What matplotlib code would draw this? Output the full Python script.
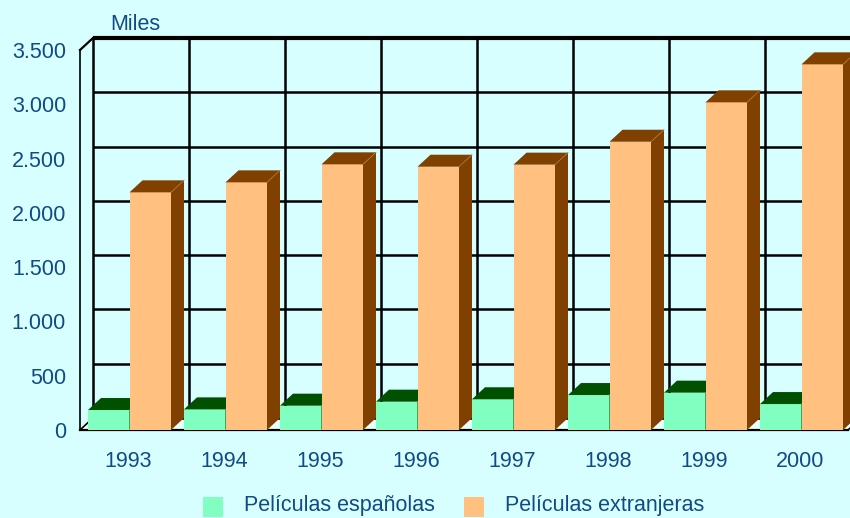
import matplotlib
matplotlib.use('Agg')
import matplotlib.pyplot as plt
from matplotlib.patches import Polygon, Rectangle

# Datos (miles)
years = ['1993', '1994', '1995', '1996', '1997', '1998', '1999', '2000']
espanolas = [184, 190, 224, 261, 283, 322, 344, 239]
extranjeras = [2189, 2281, 2447, 2425, 2444, 2655, 3018, 3368]
series_names = ['Películas españolas', 'Películas extranjeras']
y_ticks = [0, 500, 1000, 1500, 2000, 2500, 3000, 3500]

BG = '#D7FFFF'
TXT = '#124A86'
GREEN_F, GREEN_D = '#80FFC0', '#005000'
ORANGE_F, ORANGE_D = '#FFC080', '#804000'
FS = 15.5

plt.rcParams['font.family'] = ['Liberation Sans', 'DejaVu Sans']

W, H = 850, 518
fig = plt.figure(figsize=(W / 100, H / 100), dpi=100, facecolor=BG)
# front plane of the 3d box, in pixels
x0, x1, yb, yt = 80, 848, 430, 50
ax = fig.add_axes([x0 / W, 1 - yb / H, (x1 - x0) / W, (yb - yt) / H])
ax.set_facecolor('none')
ax.set_xlim(0, len(years))
ax.set_ylim(0, 3500)
for s in ax.spines.values():
    s.set_visible(False)

# depth offset (13 px right, 12 px up) in data units
DX = 13 / 96
DY = 12 * 3500 / 380
n = len(years)
ymax = y_ticks[-1]

# floor
ax.add_patch(Polygon([(0, 0), (n, 0), (n + DX, DY), (DX, DY)], closed=True,
                     facecolor='#EAFFFF', edgecolor='none', clip_on=False, zorder=1))

# back wall grid
for v in y_ticks:
    ax.plot([DX, n + DX], [v + DY, v + DY], color='black',
            lw=3 if v == ymax else 1.8, clip_on=False, zorder=2, solid_capstyle='butt')
for i in range(n + 1):
    ax.plot([i + DX, i + DX], [DY, ymax + DY], color='black', lw=1.8,
            clip_on=False, zorder=2)

# left wall edges and floor edges
ax.plot([0, 0], [0, ymax], color='black', lw=1.2, clip_on=False, zorder=2)
ax.plot([0, DX], [ymax, ymax + DY], color='black', lw=1.6, clip_on=False, zorder=2)
ax.plot([0, DX], [0, DY], color='black', lw=1.2, clip_on=False, zorder=2)
ax.plot([0, n], [0, 0], color='black', lw=1.6, clip_on=False, zorder=2)
ax.plot([n, n + DX], [0, DY], color='black', lw=1.2, clip_on=False, zorder=2)


def bar3d(xa, xb, h, front, dark, z):
    ax.add_patch(Rectangle((xa, 0), xb - xa, h, facecolor=front, edgecolor='none',
                           clip_on=False, zorder=z))
    ax.add_patch(Polygon([(xa, h), (xb, h), (xb + DX, h + DY), (xa + DX, h + DY)],
                         closed=True, facecolor=dark, edgecolor='none',
                         clip_on=False, zorder=z))
    ax.add_patch(Polygon([(xb, 0), (xb + DX, DY), (xb + DX, h + DY), (xb, h)],
                         closed=True, facecolor=dark, edgecolor='none',
                         clip_on=False, zorder=z))
    ax.plot([xb, xb + DX], [h, h + DY], color='#B07040', lw=0.6,
            clip_on=False, zorder=z + 0.1)


for i in range(n):
    a = i + 8 / 96
    m = i + 49.5 / 96
    b = i + 91 / 96
    bar3d(a, m, espanolas[i], GREEN_F, GREEN_D, 3 + i * 0.5)
    bar3d(m, b, extranjeras[i], ORANGE_F, ORANGE_D, 3.2 + i * 0.5)

# ticks and labels
ax.set_yticks(y_ticks)
ax.set_yticklabels([f'{v:,}'.replace(',', '.') for v in y_ticks])
ax.set_xticks([i + 0.5 for i in range(n)])
ax.set_xticklabels(years)
ax.tick_params(axis='y', length=0, pad=10, labelsize=FS, labelcolor=TXT)
ax.tick_params(axis='x', length=0, pad=15, labelsize=FS, labelcolor=TXT)

fig.text(110 / W, 1 - 24 / H, 'Miles', ha='left', va='center',
         fontsize=FS, color=TXT)

# legend
for k, (name, col) in enumerate(zip(series_names, [GREEN_F, ORANGE_F])):
    sx = [203, 464][k]
    fig.patches.append(Rectangle((sx / W, 1 - 517 / H), 20 / W, 20 / H,
                                 transform=fig.transFigure, facecolor=col,
                                 edgecolor='none'))
    fig.text((sx + 41) / W, 1 - 506 / H, name, ha='left', va='center',
             fontsize=FS, color=TXT)

fig.savefig('out.png', dpi=100, facecolor=BG)
